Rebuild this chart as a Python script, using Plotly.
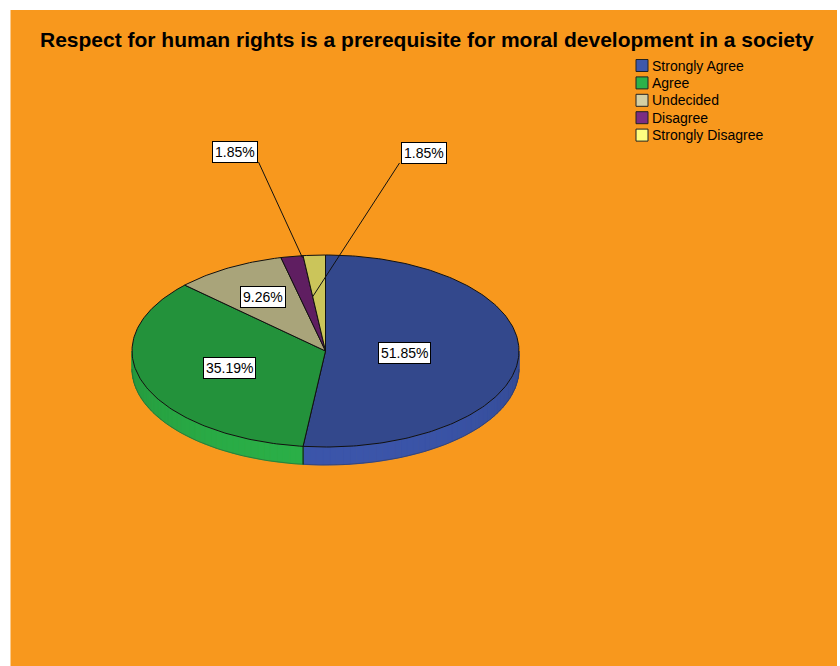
import numpy as np
import plotly.graph_objects as go

# ---- data -------------------------------------------------------------
categories = ["Strongly Agree", "Agree", "Undecided", "Disagree", "Strongly Disagree"]
percentages = [51.85, 35.19, 9.26, 1.85, 1.85]
label_texts = ["51.85%", "35.19%", "9.26%", "1.85%", "1.85%"]
title_text = "Respect for human rights is a prerequisite for moral development in a society"

# ---- styling ----------------------------------------------------------
top_colors = ["#33488C", "#23923B", "#A9A47A", "#5F1E61", "#CBC55A"]
side_colors = ["#3B55AA", "#2AAF47", "#BDB78A", "#70276F", "#DED870"]
legend_colors = ["#3E58AC", "#2DB24A", "#D4CFA4", "#7B2D83", "#FFFF80"]
ORANGE = "#F8981D"
FONT = "Liberation Sans, Arial, sans-serif"

W, H = 840, 666
CX, CY, RX, RY, DEPTH = 325.5, 351.0, 193.5, 96.0, 18.0

# label placement: inside (radius fraction) or outside with a leader line
label_inside = [True, True, True, False, False]
label_radius = [0.41, 0.53, 0.65, 0.98, 0.57]
label_anchor_frac = [0.5, 0.5, 0.5, 0.95, 0.0]
outside_box = {3: (234.5, 152.0), 4: (423.5, 153.0)}


def ell(theta_deg, r=1.0, dy=0.0):
    t = np.radians(theta_deg)
    return CX + RX * r * np.sin(t), CY - RY * r * np.cos(t) + dy


def shade(hex_color, f):
    h = hex_color.lstrip("#")
    rgb = [int(h[i:i + 2], 16) for i in (0, 2, 4)]
    rgb = [max(0, min(255, int(round(c * f)))) for c in rgb]
    return "rgb({},{},{})".format(*rgb)


# slice angles, clockwise from 12 o'clock
total = sum(percentages)
bounds = np.concatenate([[0.0], np.cumsum(percentages) / total * 360.0])

fig = go.Figure()

# ---- side walls (visible front half only) -----------------------------
STEP = 2.0
for i in range(len(categories)):
    a0, a1 = max(bounds[i], 90.0), min(bounds[i + 1], 270.0)
    if a1 <= a0:
        continue
    n = max(1, int(np.ceil((a1 - a0) / STEP)))
    edges = np.linspace(a0, a1, n + 1)
    for s in range(n):
        t0, t1 = edges[s], edges[s + 1]
        ts = np.linspace(t0, t1, 4)
        xt, yt = ell(ts)
        xb, yb = ell(ts[::-1], dy=DEPTH)
        mid = np.radians((t0 + t1) / 2)
        f = 0.86 + 0.14 * (-np.cos(mid))
        fig.add_trace(go.Scatter(
            x=np.concatenate([xt, xb, xt[:1]]), y=np.concatenate([yt, yb, yt[:1]]),
            mode="lines", fill="toself", fillcolor=shade(side_colors[i], f),
            line=dict(width=1, color=shade(side_colors[i], f)),
            hoverinfo="skip", showlegend=False))
    # slice boundary on the wall
    for edge in (bounds[i], bounds[i + 1]):
        if 90.0 < edge < 270.0:
            x0, y0 = ell(edge)
            x1, y1 = ell(edge, dy=DEPTH)
            fig.add_trace(go.Scatter(x=[x0, x1], y=[y0, y1], mode="lines",
                                     line=dict(color="#111111", width=1),
                                     hoverinfo="skip", showlegend=False))

# bottom rim of the wall
ts = np.linspace(90, 270, 181)
xb, yb = ell(ts, dy=DEPTH)
fig.add_trace(go.Scatter(x=xb, y=yb, mode="lines",
                         line=dict(color="rgba(40,40,40,0.35)", width=1),
                         hoverinfo="skip", showlegend=False))

# ---- top face ---------------------------------------------------------
for i in range(len(categories)):
    ts = np.linspace(bounds[i], bounds[i + 1], max(3, int((bounds[i + 1] - bounds[i]) / 1.0) + 2))
    xa, ya = ell(ts)
    fig.add_trace(go.Scatter(
        x=np.concatenate([[CX], xa, [CX]]), y=np.concatenate([[CY], ya, [CY]]),
        mode="lines", fill="toself", fillcolor=top_colors[i],
        line=dict(color="#111111", width=1),
        name=categories[i], hoverinfo="skip", showlegend=False))

# ---- value labels -----------------------------------------------------
annotations = []
for i, txt in enumerate(label_texts):
    ang = bounds[i] + label_anchor_frac[i] * (bounds[i + 1] - bounds[i])
    px, py = ell(ang, r=label_radius[i])
    if label_inside[i]:
        bx, by = px, py
    else:
        bx, by = outside_box[i]
        half_w, half_h = 24.0, 10.0
        sx = bx + half_w if px > bx else bx - half_w
        sy = by + half_h
        fig.add_trace(go.Scatter(x=[sx, px], y=[sy, py], mode="lines",
                                 line=dict(color="#111111", width=1),
                                 hoverinfo="skip", showlegend=False))
    annotations.append(dict(
        x=bx, y=by, xref="x", yref="y", text=txt, showarrow=False,
        font=dict(family=FONT, size=14, color="#000000"),
        bgcolor="#FFFFFF", bordercolor="#000000", borderwidth=1, borderpad=2))

# ---- legend -----------------------------------------------------------
LEG_X, LEG_Y0, LEG_DY = 642.0, 65.5, 17.4
leg_y = [LEG_Y0 + k * LEG_DY for k in range(len(categories))]
fig.add_trace(go.Scatter(
    x=[LEG_X] * len(categories), y=leg_y, mode="markers",
    marker=dict(symbol="square", size=12, color=legend_colors,
                line=dict(color="#222222", width=1)),
    hoverinfo="skip", showlegend=False))
for k, name in enumerate(categories):
    annotations.append(dict(
        x=LEG_X + 8, y=leg_y[k], xref="x", yref="y", text=name,
        showarrow=False, xanchor="left", yanchor="middle",
        font=dict(family=FONT, size=14, color="#000000")))

# ---- title ------------------------------------------------------------
annotations.append(dict(
    x=427, y=39, xref="x", yref="y", text="<b>" + title_text + "</b>",
    showarrow=False, xanchor="center", yanchor="middle",
    font=dict(family=FONT, size=21, color="#000000")))

fig.update_layout(
    width=W, height=H,
    margin=dict(l=0, r=0, t=0, b=0),
    paper_bgcolor="#FFFFFF", plot_bgcolor="#FFFFFF",
    xaxis=dict(range=[0, W], visible=False, fixedrange=True),
    yaxis=dict(range=[H, 0], visible=False, fixedrange=True),
    showlegend=False,
    annotations=annotations,
    shapes=[dict(type="rect", xref="x", yref="y", x0=10.5, y0=10, x1=837, y1=H,
                 fillcolor=ORANGE, line=dict(width=0), layer="below")],
)

fig.write_html("out.html")
